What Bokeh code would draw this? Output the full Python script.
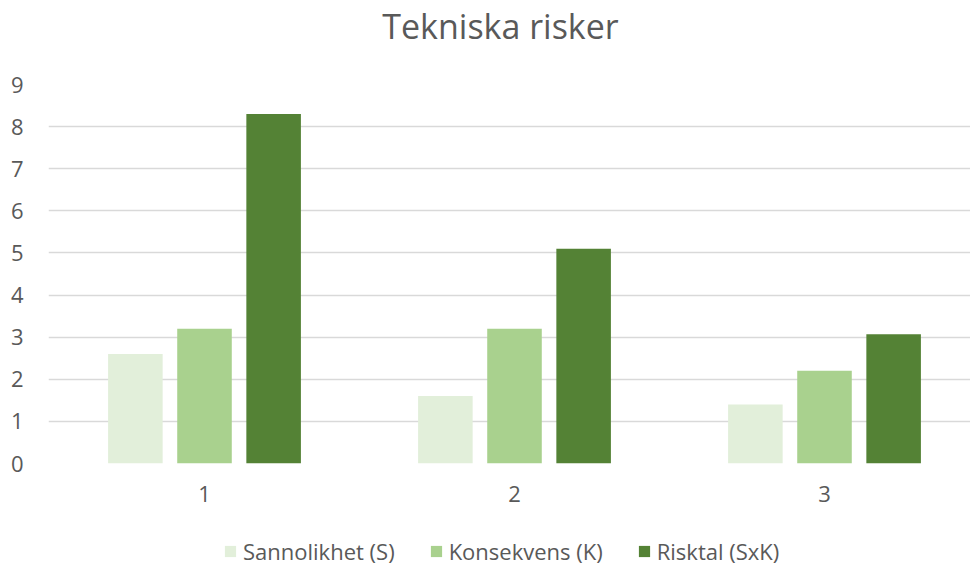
from bokeh.plotting import figure
from bokeh.layouts import column
from bokeh.models import ColumnDataSource, FixedTicker, Legend, LegendItem, Range1d, Label
from bokeh.embed import file_html
from bokeh.resources import INLINE
from bokeh.transform import dodge

# ---- data ----
categories = [1, 2, 3]
category_labels = {1: "1", 2: "2", 3: "3"}
sannolikhet = [2.6, 1.6, 1.4]
konsekvens = [3.2, 3.2, 2.2]
risktal = [8.3, 5.1, 3.07]
series_names = ["Sannolikhet (S)", "Konsekvens (K)", "Risktal (SxK)"]
colors = ["#E2EFDA", "#A9D18E", "#548235"]
y_ticks = [0, 1, 2, 3, 4, 5, 6, 7, 8, 9]
title_text = "Tekniska risker"

FONT = "Open Sans"
TXT = "#595959"

W = 970
H_TITLE, H_MAIN, H_LEG = 64, 472, 30
LEFT = 48
frame_w = W - LEFT
x0 = 1 - 156 / 310


def bare(fig):
    fig.outline_line_color = None
    fig.xgrid.grid_line_color = None
    fig.ygrid.grid_line_color = None
    fig.background_fill_color = "white"
    fig.border_fill_color = "white"


# ---- title strip ----
p0 = figure(width=W, height=H_TITLE, output_backend="svg", toolbar_location=None,
            x_range=Range1d(0, 1), y_range=Range1d(0, 1),
            x_axis_type=None, y_axis_type=None,
            min_border_left=0, min_border_right=0, min_border_top=0, min_border_bottom=0)
bare(p0)
p0.add_layout(Label(x=452, y=39, x_units="screen", y_units="screen", text=title_text,
                    text_align="center", text_baseline="alphabetic",
                    text_font=FONT, text_font_size="34px", text_color=TXT))

# ---- main chart ----
p = figure(width=W, height=H_MAIN, output_backend="svg", toolbar_location=None,
           x_range=Range1d(x0, x0 + frame_w / 310), y_range=Range1d(0, 9.0),
           min_border_left=LEFT, min_border_right=0, min_border_top=20,
           min_border_bottom=73)
p.outline_line_color = None
p.background_fill_color = "white"
p.border_fill_color = "white"

src = ColumnDataSource(dict(x=categories, s=sannolikhet, k=konsekvens, r=risktal))
keys = ["s", "k", "r"]
offsets = [-0.223, 0.0, 0.223]
for key, off, col in zip(keys, offsets, colors):
    p.vbar(x=dodge("x", off), top=key, width=0.176, source=src,
           fill_color=col, line_color=None)

p.yaxis.ticker = FixedTicker(ticks=y_ticks)
p.yaxis.axis_line_color = None
p.yaxis.major_tick_line_color = None
p.yaxis.minor_tick_line_color = None
p.yaxis.major_label_standoff = 19
p.yaxis.major_label_text_font = FONT
p.yaxis.major_label_text_font_size = "22px"
p.yaxis.major_label_text_color = TXT

p.xaxis.ticker = FixedTicker(ticks=categories)
p.xaxis.major_label_overrides = category_labels
p.xaxis.axis_line_color = None
p.xaxis.major_tick_line_color = None
p.xaxis.minor_tick_line_color = None
p.xaxis.major_label_standoff = 16
p.xaxis.major_label_text_font = FONT
p.xaxis.major_label_text_font_size = "22px"
p.xaxis.major_label_text_color = TXT

p.xgrid.grid_line_color = None
p.ygrid.ticker = FixedTicker(ticks=y_ticks)
p.ygrid.grid_line_color = "#D9D9D9"
p.ygrid.grid_line_width = 1.3

# ---- legend strip (its own bars lie entirely outside its view) ----
p2 = figure(width=W, height=H_LEG, output_backend="svg", toolbar_location=None,
            x_range=Range1d(4, 5), y_range=Range1d(20, 21),
            x_axis_type=None, y_axis_type=None,
            min_border_left=0, min_border_right=0, min_border_top=0, min_border_bottom=0)
bare(p2)
leg_renderers = [p2.vbar(x="x", top=key, width=0.176, source=src, fill_color=c, line_color=None)
                 for key, c in zip(keys, colors)]
legend = Legend(items=[LegendItem(label=n, renderers=[r]) for n, r in zip(series_names, leg_renderers)],
                orientation="horizontal", location=(175, 0),
                label_text_font=FONT, label_text_font_size="22px", label_text_color=TXT,
                glyph_width=14, glyph_height=14, spacing=34, label_standoff=6,
                padding=0, margin=0, border_line_color=None, background_fill_alpha=0)
p2.add_layout(legend, "center")

layout = column(p0, p, p2, spacing=0)
open("out.html", "w").write(file_html(layout, INLINE))
